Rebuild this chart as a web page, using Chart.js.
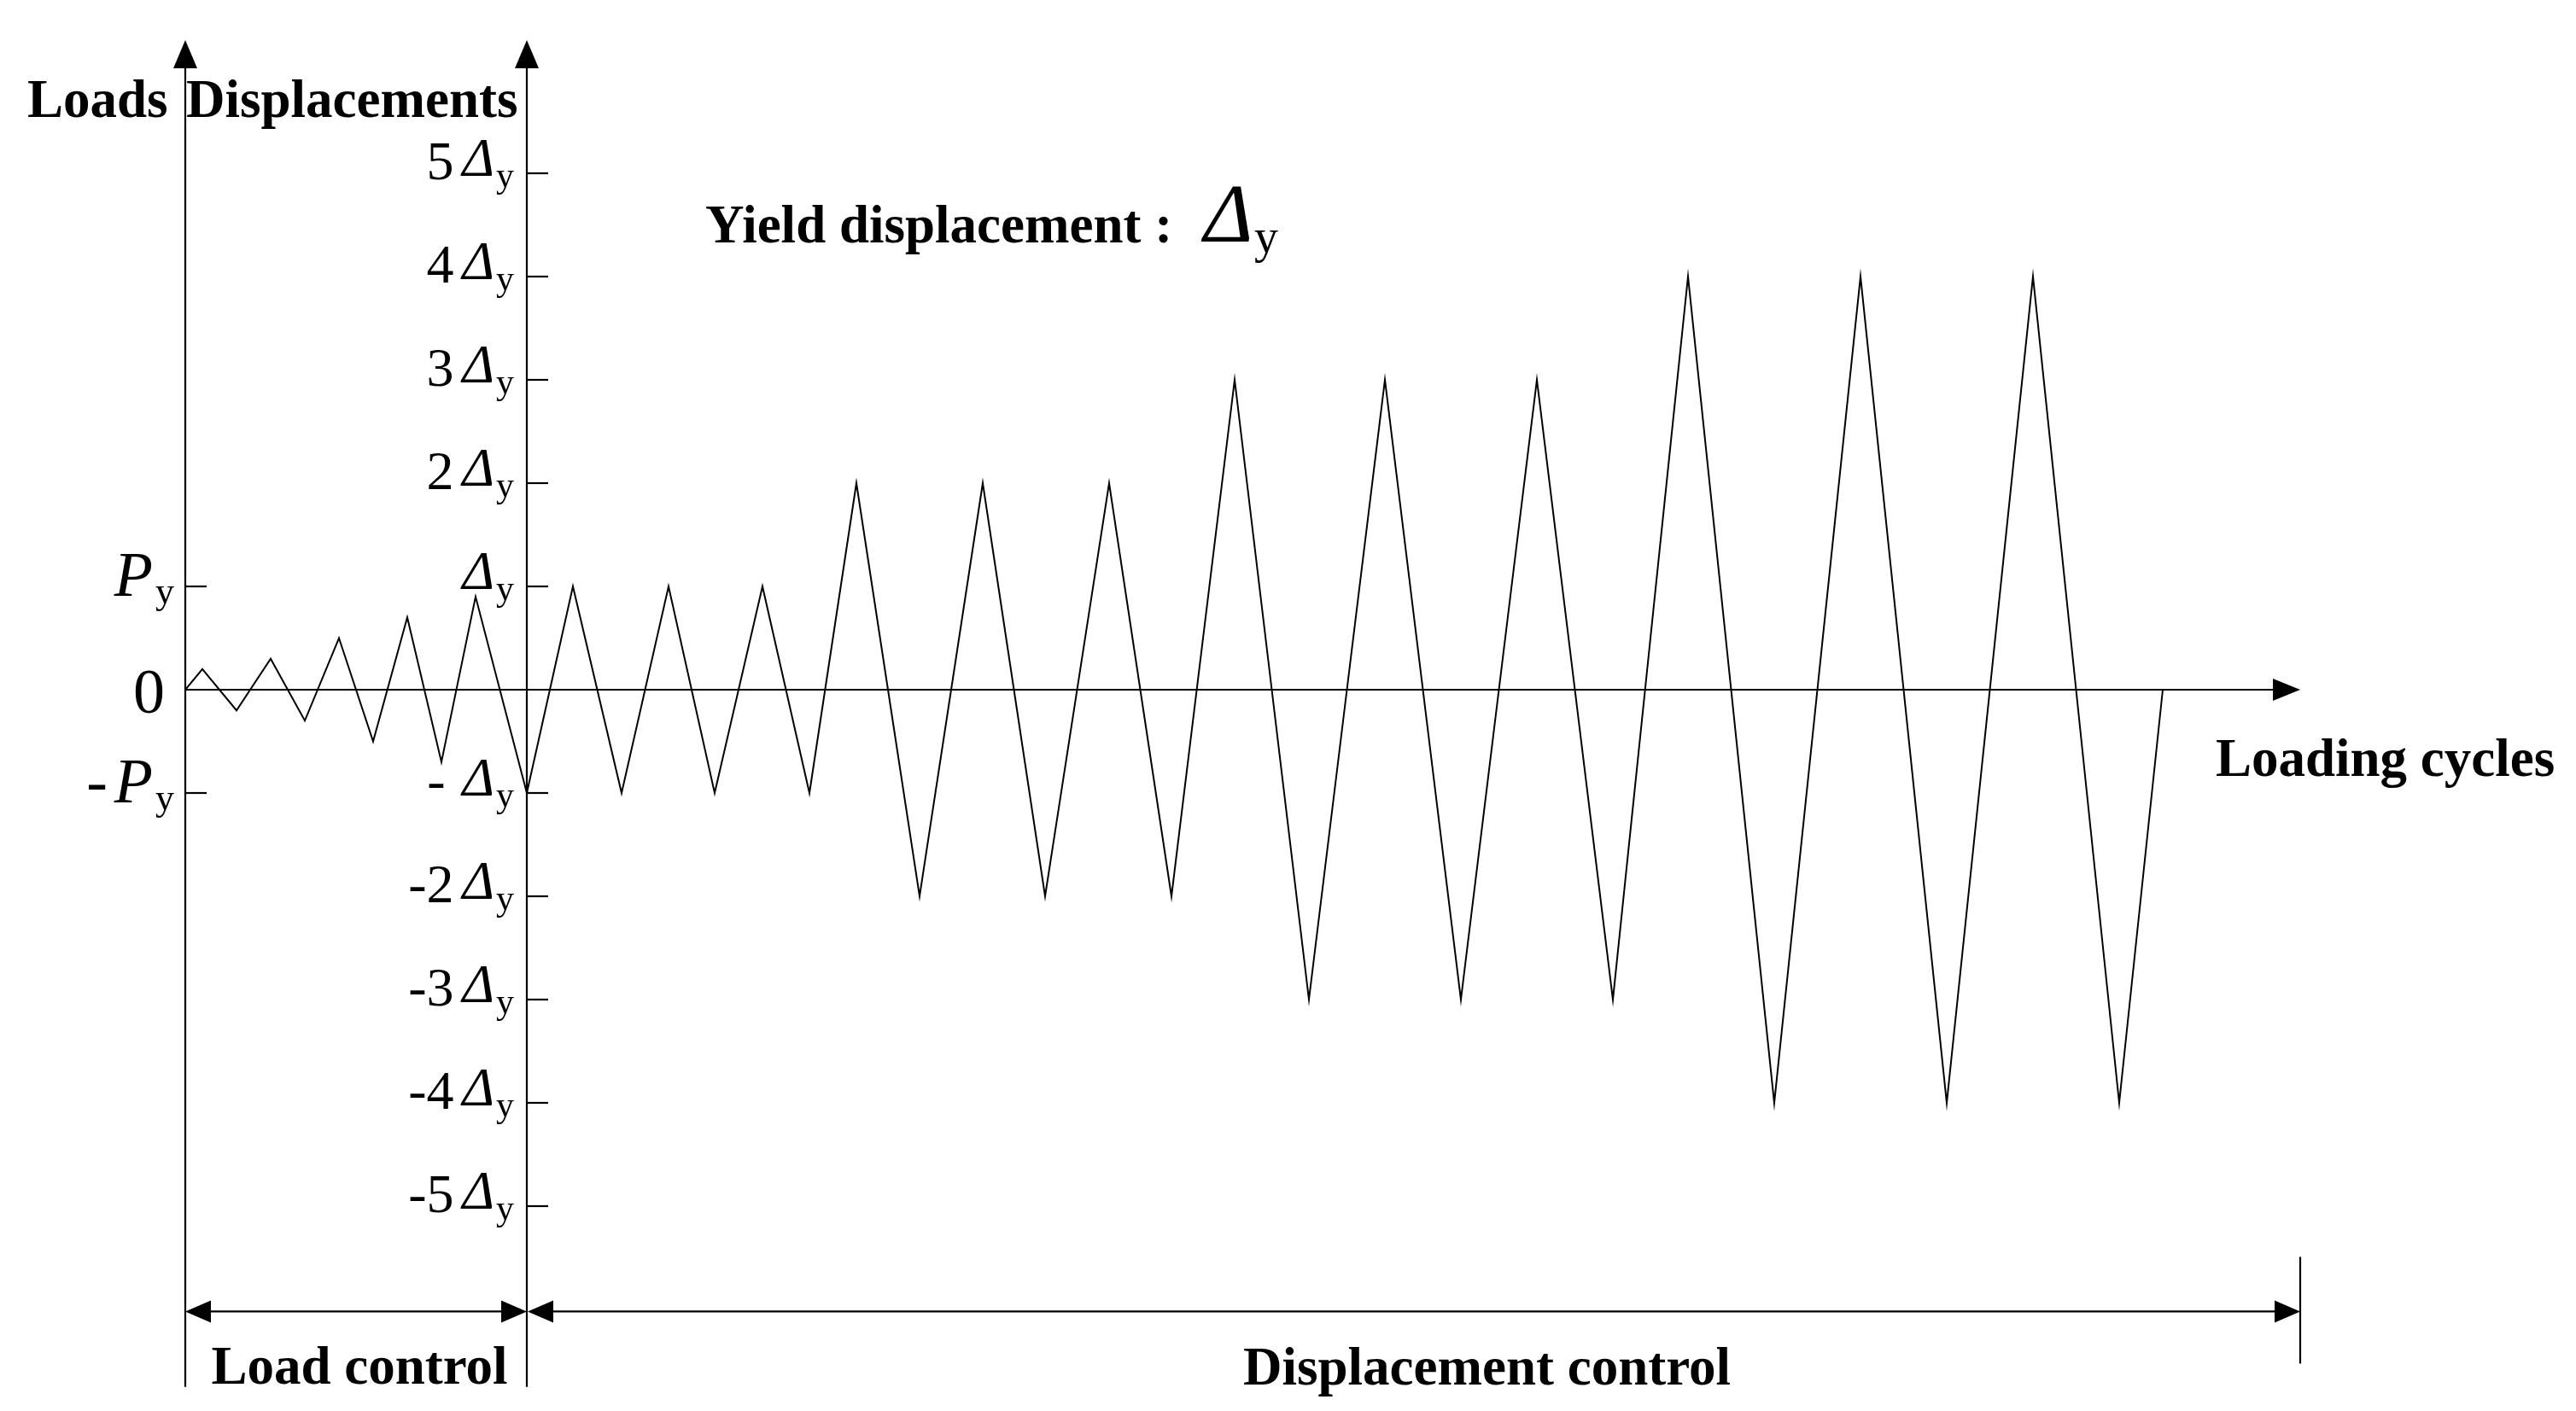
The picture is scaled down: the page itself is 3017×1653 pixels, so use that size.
<!DOCTYPE html>
<html>
<head>
<meta charset="utf-8">
<script src="https://cdn.jsdelivr.net/npm/chart.js@4/dist/chart.umd.min.js"></script>
<style>
  html, body { margin: 0; padding: 0; background: #fff; }
  canvas { display: block; }
</style>
</head>
<body>
<canvas id="grafico" width="3017" height="1653"></canvas>
<script>
// Etapa de control por carga (x = avance del ensayo, y = multiplos de Py)
var cargaX = [0, 1, 3, 5, 7, 9, 11, 13, 15, 17, 20];
var cargaY = [0, 0.2, -0.2, 0.3, -0.3, 0.5, -0.5, 0.7, -0.7, 0.9, -1];

// Etapa de control por desplazamiento (y = multiplos de Δy)
var despX = [20, 22.7, 25.55, 28.3, 31, 33.8, 36.55, 39.3, 43, 46.7, 50.35, 54.1, 57.75,
             61.45, 65.8, 70.25, 74.7, 79.15, 83.6, 88, 93.05, 98.1, 103.15, 108.2, 113.25, 115.8];
var despY = [-1, 1, -1, 1, -1, 1, -1, 2, -2, 2, -2, 2, -2,
             3, -3, 3, -3, 3, -3, 4, -4, 4, -4, 4, -4, 0];

// Marcas de los ejes
var ticksDesp = [5, 4, 3, 2, 1, -1, -2, -3, -4, -5];
var etiquetasDesp = ["5", "4", "3", "2", "", "-", "-2", "-3", "-4", "-5"];
var ticksCarga = [1, 0, -1];
var etiquetasCarga = ["P", "0", "-P"];

var FUENTE = '"Liberation Serif", "Times New Roman", serif';
var NEGRITA = 'bold 63px ' + FUENTE;

function puntos(xs, ys) {
    return xs.map(function (x, i) { return { x: x, y: ys[i] }; });
}

function flecha(ctx, x, y, dir, largo, medio) {
    ctx.beginPath();
    ctx.moveTo(x, y);
    if (dir === "up") {
        ctx.lineTo(x - medio, y + largo);
        ctx.lineTo(x + medio, y + largo);
    } else if (dir === "right") {
        ctx.lineTo(x - largo, y - medio);
        ctx.lineTo(x - largo, y + medio);
    } else {
        ctx.lineTo(x + largo, y - medio);
        ctx.lineTo(x + largo, y + medio);
    }
    ctx.closePath();
    ctx.fill();
}

function linea(ctx, xa, ya, xb, yb) {
    ctx.beginPath();
    ctx.moveTo(xa, ya);
    ctx.lineTo(xb, yb);
    ctx.stroke();
}

// texto con partes de distinta fuente, alineado a la derecha
function textoCompuesto(ctx, partes, xDer, yBase) {
    var total = 0;
    partes.forEach(function (p) {
        ctx.font = p[1];
        total += ctx.measureText(p[0]).width + p[3];
    });
    var x = xDer - total;
    partes.forEach(function (p) {
        ctx.font = p[1];
        ctx.fillText(p[0], x, yBase + p[2]);
        x += ctx.measureText(p[0]).width + p[3];
    });
}

var ejes = {
    id: "ejes",
    afterDraw: function (chart) {
        var ctx = chart.ctx;
        var sx = chart.scales.x;
        var sy = chart.scales.yDesp;
        var sc = chart.scales.yCarga;
        var x0 = sx.getPixelForValue(0);
        var x1 = sx.getPixelForValue(20);
        var xFin = sx.getPixelForValue(sx.max);
        var yCero = sy.getPixelForValue(0);
        var yArriba = sy.getPixelForValue(6.29);
        var yAbajo = sy.getPixelForValue(-6.75);
        var yCota = sy.getPixelForValue(-6.02);

        ctx.save();
        ctx.strokeStyle = "#000";
        ctx.fillStyle = "#000";
        ctx.lineWidth = 2.2;

        // ejes verticales y horizontal
        linea(ctx, x0, yArriba + 20, x0, yAbajo);
        linea(ctx, x1, yArriba + 20, x1, yAbajo);
        flecha(ctx, x0, yArriba, "up", 33, 14);
        flecha(ctx, x1, yArriba, "up", 33, 14);
        linea(ctx, x0, yCero, xFin - 20, yCero);
        flecha(ctx, xFin, yCero, "right", 32, 13);

        // marcas del eje de desplazamientos
        ctx.textAlign = "left";
        ticksDesp.forEach(function (v, i) {
            var y = sy.getPixelForValue(v);
            linea(ctx, x1, y, x1 + 25, y);
            textoCompuesto(ctx, [
                [etiquetasDesp[i], "64px " + FUENTE, 7, etiquetasDesp[i] === "-" ? 20 : 10],
                ["\u0394", "italic 64px " + FUENTE, 3, 2],
                ["y", "42px " + FUENTE, 16, 0]
            ], x1 - 15, y);
        });

        // marcas del eje de cargas
        ticksCarga.forEach(function (v, i) {
            var y = sc.getPixelForValue(v);
            var et = etiquetasCarga[i];
            if (v !== 0) linea(ctx, x0, y, x0 + 25, y);
            if (et === "0") {
                ctx.font = "74px " + FUENTE;
                ctx.textAlign = "right";
                ctx.fillText("0", x0 - 24, y + 27);
                ctx.textAlign = "left";
            } else {
                var pre = et.charAt(0) === "-" ? "-" : "";
                textoCompuesto(ctx, [
                    [pre, "74px " + FUENTE, 11, pre ? 8 : 0],
                    ["P", "italic 74px " + FUENTE, 11, 3],
                    ["y", "44px " + FUENTE, 20, 0]
                ], x0 - 13, y);
            }
        });

        // titulos
        ctx.font = NEGRITA;
        ctx.fillText("Loads", 32, 137);
        ctx.fillText("Displacements", 218, 137);
        ctx.fillText("Yield displacement :", 826, 284);
        ctx.font = "italic 98px " + FUENTE;
        ctx.fillText("\u0394", 1410, 283);
        ctx.font = "56px " + FUENTE;
        ctx.fillText("y", 1469, 296);
        ctx.font = NEGRITA;
        ctx.fillText("Loading cycles", 2595, 909);

        // cotas inferiores
        linea(ctx, x0 + 20, yCota, x1 - 20, yCota);
        flecha(ctx, x0, yCota, "left", 30, 13);
        flecha(ctx, x1, yCota, "right", 30, 13);
        linea(ctx, x1 + 20, yCota, xFin - 20, yCota);
        flecha(ctx, x1 + 1, yCota, "left", 30, 13);
        flecha(ctx, xFin, yCota, "right", 30, 13);
        linea(ctx, xFin, yCota - 64, xFin, yCota + 61);

        ctx.textAlign = "center";
        ctx.fillText("Load control", (x0 + x1) / 2 + 4, 1621);
        ctx.textAlign = "left";
        ctx.fillText("Displacement control", 1456, 1622);
        ctx.restore();
    }
};

var grafico = new Chart(document.getElementById("grafico").getContext("2d"), {
    type: "scatter",
    data: {
        datasets: [{
            label: "Load control",
            data: puntos(cargaX, cargaY),
            yAxisID: "yCarga",
            showLine: true,
            borderColor: "#000",
            borderWidth: 2,
            pointRadius: 0,
            tension: 0
        }, {
            label: "Displacement control",
            data: puntos(despX, despY),
            yAxisID: "yDesp",
            showLine: true,
            borderColor: "#000",
            borderWidth: 2,
            pointRadius: 0,
            tension: 0
        }]
    },
    options: {
        responsive: false,
        animation: false,
        layout: { padding: { left: 217, right: 323, top: 33.6, bottom: 22.2 } },
        plugins: { legend: { display: false }, tooltip: { enabled: false } },
        scales: {
            x: { type: "linear", min: 0, max: 123.85, display: false },
            yCarga: { type: "linear", min: -6.8, max: 6.4, display: false },
            yDesp: { type: "linear", min: -6.8, max: 6.4, display: false }
        }
    },
    plugins: [ejes]
});
</script>
</body>
</html>
